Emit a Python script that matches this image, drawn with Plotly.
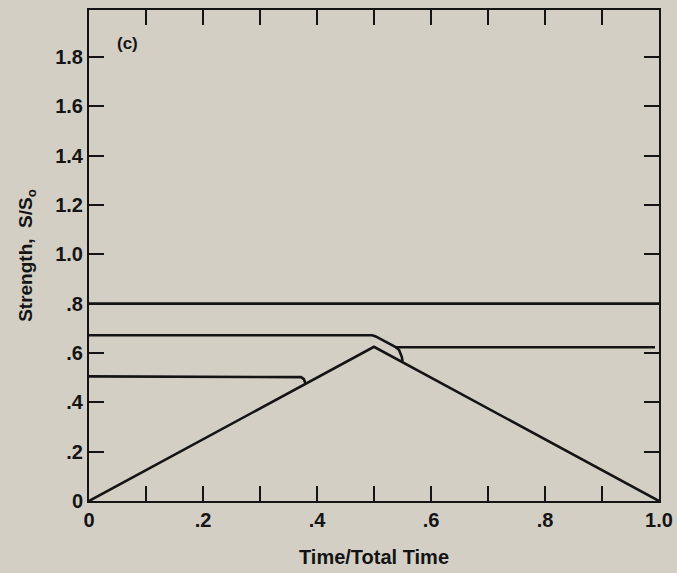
import plotly.graph_objects as go

# Strength history curves, S/So versus Time/Total Time
t_flat_high = [0.0, 1.0]
s_flat_high = [0.80, 0.80]

t_load = [0.0, 0.5, 1.0]
s_load = [0.0, 0.625, 0.0]

t_mid = [0.0, 0.497, 0.503, 0.538, 0.544, 0.547, 0.549, 0.550]
s_mid = [0.672, 0.672, 0.667, 0.624, 0.612, 0.598, 0.582, 0.566]

t_mid_after = [0.537, 0.993]
s_mid_after = [0.623, 0.623]

t_low = [0.0, 0.364, 0.372, 0.377, 0.379, 0.380]
s_low = [0.505, 0.505, 0.502, 0.494, 0.484, 0.474]

x_ticks = [0.0, 0.1, 0.2, 0.3, 0.4, 0.5, 0.6, 0.7, 0.8, 0.9, 1.0]
x_labels = ["0", "", ".2", "", ".4", "", ".6", "", ".8", "", "1.0"]
y_ticks = [0.0, 0.2, 0.4, 0.6, 0.8, 1.0, 1.2, 1.4, 1.6, 1.8]
y_labels = ["0", ".2", ".4", ".6", ".8", "1.0", "1.2", "1.4", "1.6", "1.8"]

ink = "#141414"
line_style = dict(color=ink, width=2.6)

fig = go.Figure()
for tx, sy in [(t_flat_high, s_flat_high), (t_load, s_load), (t_mid, s_mid),
               (t_mid_after, s_mid_after), (t_low, s_low)]:
    fig.add_trace(go.Scatter(x=tx, y=sy, mode="lines", line=line_style,
                             line_shape="linear", showlegend=False, hoverinfo="skip"))

family = "Liberation Sans, Arial, sans-serif"
font = dict(family=family, size=20, color=ink, weight="bold")

fig.add_annotation(x=0.068, y=1.855, xref="x", yref="y", text="(c)",
                   showarrow=False, font=dict(family=family, size=17, color=ink, weight="bold"))

axis_common = dict(showline=True, linecolor=ink, linewidth=2, mirror="ticks",
                   ticks="inside", ticklen=15, tickwidth=2, tickcolor=ink,
                   showgrid=False, zeroline=False, tickfont=font)

fig.update_xaxes(range=[0, 1.0], tickvals=x_ticks, ticktext=x_labels,
                 title=dict(text="Time/Total Time",
                            font=dict(family=family, size=20, color=ink, weight="bold"),
                            standoff=20),
                 **axis_common)
fig.update_yaxes(range=[0, 1.99], tickvals=y_ticks, ticktext=y_labels,
                 title=dict(text="Strength,  S/S<sub>o</sub>",
                            font=dict(family=family, size=19, color=ink, weight="bold"),
                            standoff=18),
                 **axis_common)

fig.update_layout(width=677, height=573,
                  margin=dict(l=89, r=18, t=10, b=72, autoexpand=False),
                  paper_bgcolor="#d3cfc5", plot_bgcolor="#d3cfc5")

fig.write_html("out.html")
